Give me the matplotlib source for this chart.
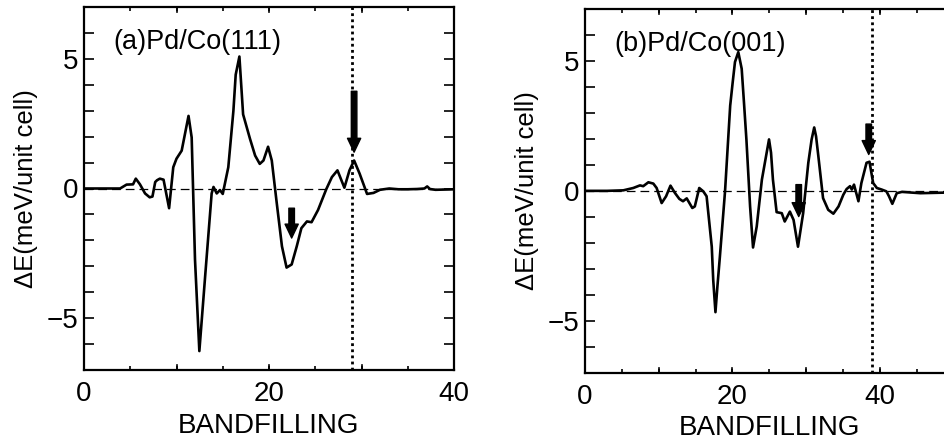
import numpy as np
import matplotlib
matplotlib.use("Agg")
import matplotlib.pyplot as plt
from matplotlib.ticker import MultipleLocator, FixedLocator

plt.rcParams['font.family'] = ['Liberation Sans', 'DejaVu Sans']

# (a) Pd/Co(111)
band_a = [0.0, 2.0, 3.9, 4.6, 5.3, 5.6, 6.05, 6.6, 7.1, 7.4, 7.7, 7.9, 8.2, 8.6,
          9.2, 9.65, 10.0, 10.56, 11.3, 11.64, 12.0, 12.47, 13.1, 13.8, 14.0,
          14.35, 14.7, 15.0, 15.6, 16.15, 16.4, 16.8, 17.2, 17.95, 18.5, 19.0,
          19.4, 19.9, 20.3, 20.8, 21.4, 21.9, 22.45, 23.0, 23.5, 24.1, 24.6,
          25.3, 26.2, 26.8, 27.4, 28.15, 28.7, 29.2, 29.8, 30.6, 31.3, 32.0,
          33.0, 34.0, 35.0, 36.0, 36.8, 37.1, 37.4, 38.0, 40.0]
de_a = [0.0, 0.0, 0.0, 0.15, 0.16, 0.38, 0.16, -0.19, -0.34, -0.31, 0.25, 0.32,
        0.38, 0.34, -0.76, 0.82, 1.15, 1.46, 2.80, 1.97, -2.74, -6.27, -3.37,
        -0.19, 0.06, -0.19, -0.06, -0.21, 0.82, 2.99, 4.39, 5.09, 2.86, 1.91,
        1.27, 0.95, 1.08, 1.61, 1.08, -0.45, -2.23, -3.05, -2.93, -2.23, -1.53,
        -1.27, -1.30, -0.83, -0.02, 0.44, 0.70, 0.03, 0.70, 1.08, 0.57, -0.21,
        -0.17, -0.05, 0.0, -0.03, -0.03, -0.02, 0.0, 0.08, -0.02, -0.05, -0.03]

# (b) Pd/Co(001)
band_b = [0.0, 3.0, 5.2, 6.55, 7.46, 7.9, 8.6, 9.27, 9.72, 10.4, 11.0, 11.6,
          12.2, 12.8, 13.3, 13.8, 14.56, 14.9, 15.5, 16.05, 16.5, 17.2, 17.4,
          17.7, 17.96, 18.3, 19.0, 19.7, 20.04, 20.35, 20.8, 21.26, 21.57, 21.9,
          22.4, 22.8, 23.3, 24.0, 24.65, 24.97, 25.24, 25.5, 26.0, 26.7, 27.1,
          27.8, 28.3, 28.9, 29.6, 30.3, 30.75, 31.1, 31.35, 31.66, 32.3, 33.0,
          33.7, 34.4, 35.05, 35.5, 35.96, 36.2, 36.5, 37.1, 37.5, 38.2, 38.6,
          39.1, 39.6, 40.25, 40.9, 41.25, 41.7, 42.3, 43.0, 45.5, 50.0]
de_b = [0.0, 0.0, 0.02, 0.11, 0.21, 0.18, 0.33, 0.28, 0.11, -0.47, -0.21, 0.20,
        -0.08, -0.31, -0.40, -0.29, -0.66, -0.60, 0.11, -0.02, -0.21, -2.15,
        -3.44, -4.67, -3.70, -2.54, -0.02, 3.28, 4.18, 4.96, 5.34, 4.70, 3.40,
        1.98, -0.60, -2.18, -1.37, 0.43, 1.47, 1.98, 1.47, 0.43, -0.82, -0.86,
        -1.18, -0.80, -1.12, -2.15, -0.86, 1.08, 1.98, 2.44, 2.10, 1.34, -0.28,
        -0.73, -0.88, -0.60, -0.15, 0.07, 0.18, 0.05, 0.24, -0.40, 0.30, 1.08,
        1.12, 0.30, 0.11, 0.05, -0.02, -0.21, -0.50, -0.09, -0.04, -0.09, -0.06]

panels = ['(a)Pd/Co(111)', '(b)Pd/Co(001)']
xmax = [40, 50]
vline_x = [29.0, 39.0]
# arrows: (x, tail y, tip y)
arrows_a = [(29.2, 3.75, 1.40), (22.45, -0.76, -1.91)]
arrows_b = [(38.5, 2.57, 1.40), (29.0, 0.24, -0.99)]

fig = plt.figure(figsize=(9.44, 4.45), dpi=100)
W, H = 944, 445
ax1 = fig.add_axes([84 / W, (H - 370) / H, 370 / W, 363 / H])
ax2 = fig.add_axes([585 / W, (H - 372.7) / H, 368.5 / W, 363.7 / H])

for ax, x, y, name, xm, vx, arr in zip([ax1, ax2], [band_a, band_b], [de_a, de_b],
                                         panels, xmax, vline_x, [arrows_a, arrows_b]):
    ax.axhline(0, color='k', lw=0.9, ls=(0, (7, 4)), zorder=1)
    ax.axvline(vx, color='k', lw=2.0, ls=(0, (1, 1.2)), zorder=2)
    ax.plot(x, y, color='k', lw=1.9, zorder=3)
    for ax_x, y0, y1 in arr:
        ax.annotate('', xy=(ax_x, y1), xytext=(ax_x, y0),
                    arrowprops=dict(facecolor='k', edgecolor='k', width=4,
                                    headwidth=9.5, headlength=10, shrink=0), zorder=4)
    ax.set_xlim(0, xm)
    ax.set_ylim(-7.0, 7.0)
    ax.xaxis.set_major_locator(FixedLocator([0, 20, 40]))
    ax.xaxis.set_minor_locator(FixedLocator([v for v in range(5, xm, 5) if v not in (20, 40)]))
    ax.yaxis.set_major_locator(FixedLocator([-5, 0, 5]))
    ax.yaxis.set_minor_locator(MultipleLocator(1))
    ax.tick_params(which='both', direction='in', top=True, right=(xm == 40),
                   labelsize=20, width=1.2)
    ax.tick_params(axis='y', which='both', length=7, pad=4)
    ax.tick_params(axis='x', which='both', length=3, pad=8)
    ax.set_yticklabels(['\u22125', '0', '5'])
    for s in ax.spines.values():
        s.set_linewidth(1.6)
    ax.set_xlabel('BANDFILLING', fontsize=20, labelpad=4)
    ax.set_ylabel('\u0394E(meV/unit cell)', fontsize=18.5, labelpad=6)
    ax.text(0.08, 0.94, name, transform=ax.transAxes, fontsize=19.5,
            ha='left', va='top')

# longer ticks at 10, 20, 30
for ax, xm in zip([ax1, ax2], xmax):
    for v in range(10, xm, 10):
        ax.plot([v, v], [-7.0, -6.8], color='k', lw=1.2, clip_on=False, zorder=5)
        ax.plot([v, v], [7.0, 6.8], color='k', lw=1.2, clip_on=False, zorder=5)

fig.savefig('out.png', dpi=100)
